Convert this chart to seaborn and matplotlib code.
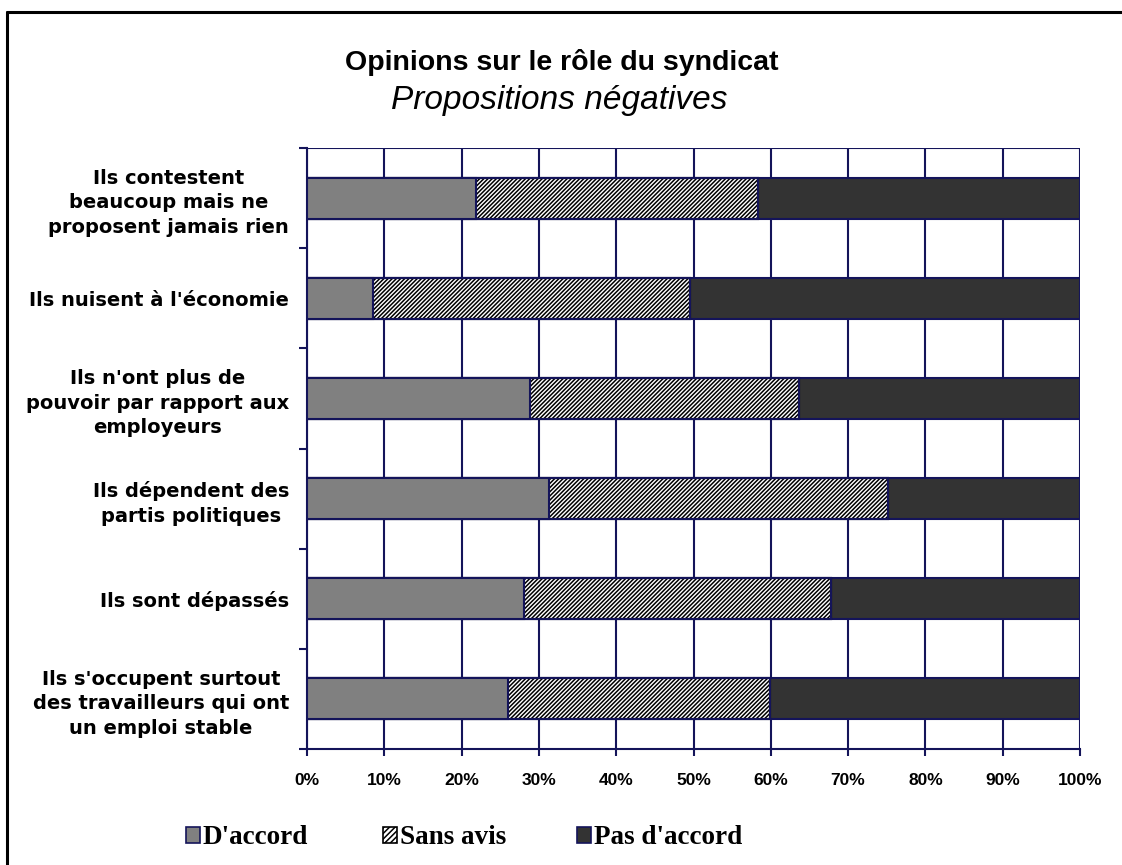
import matplotlib
matplotlib.use("Agg")
import matplotlib.pyplot as plt
import seaborn as sns
import pandas as pd
import numpy as np
from matplotlib.patches import Patch
from matplotlib.lines import Line2D
from matplotlib.ticker import FixedLocator, PercentFormatter

# Survey statements (top to bottom) and answer shares in percent
statements = [
    "Ils contestent\nbeaucoup mais ne\nproposent jamais rien",
    "Ils nuisent à l'économie",
    "Ils n'ont plus de\npouvoir par rapport aux\nemployeurs",
    "Ils dépendent des\npartis politiques",
    "Ils sont dépassés",
    "Ils s'occupent surtout\ndes travailleurs qui ont\nun emploi stable",
]
d_accord = [21.8, 8.6, 28.9, 31.3, 28.1, 26.0]
sans_avis = [36.5, 41.0, 34.8, 43.8, 39.7, 33.9]
pas_d_accord = [41.7, 50.4, 36.3, 24.9, 32.2, 40.1]
series_names = ["D'accord", "Sans avis", "Pas d'accord"]
x_ticks = [0, 10, 20, 30, 40, 50, 60, 70, 80, 90, 100]

navy = "#14145a"
grey = "#808080"
dark = "#333333"
hatch = "////////"

sns.set_theme(style="white")
plt.rcParams["font.family"] = ["Liberation Sans", "DejaVu Sans"]
plt.rcParams["text.color"] = "black"
plt.rcParams["xtick.labelcolor"] = "black"
plt.rcParams["ytick.labelcolor"] = "black"
plt.rcParams["hatch.linewidth"] = 1.1
plt.rcParams["hatch.color"] = "black"

df = pd.DataFrame({
    "statement": statements,
    "d": d_accord,
    "s": sans_avis,
    "p": pas_d_accord,
})
df["cum_s"] = df["d"] + df["s"]
df["cum_p"] = df["cum_s"] + df["p"]

fig = plt.figure(figsize=(11.22, 8.65), dpi=100)
ax = fig.add_axes([307 / 1122, 1 - 749 / 865, (1080 - 307) / 1122, (749 - 148) / 865])

bar_w = 0.41
# Stacked bars drawn as cumulative layers, widest first
sns.barplot(data=df, y="statement", x="cum_p", orient="h", color=dark,
            saturation=1, width=bar_w, edgecolor=navy, linewidth=1.5, ax=ax, zorder=3)
n_prev = len(ax.patches)
sns.barplot(data=df, y="statement", x="cum_s", orient="h", color="white",
            saturation=1, width=bar_w, edgecolor=navy, linewidth=1.5, ax=ax, zorder=3)
for p in list(ax.patches[n_prev:]):
    p.set_hatch(hatch)
    p.set_edgecolor("black")
    # navy outline over the hatched segment
    ax.add_patch(plt.Rectangle(p.get_xy(), p.get_width(), p.get_height(), fill=False,
                               edgecolor=navy, linewidth=1.5, zorder=3.5))
sns.barplot(data=df, y="statement", x="d", orient="h", color=grey,
            saturation=1, width=bar_w, edgecolor=navy, linewidth=1.5, ax=ax, zorder=4)

ax.set_xlim(0, 100)
ax.set_ylim(len(statements) - 0.5, -0.5)
ax.xaxis.set_major_locator(FixedLocator(x_ticks))
ax.xaxis.set_major_formatter(PercentFormatter(decimals=0))
ax.set_xlabel("")
ax.set_ylabel("")

# Vertical grid and top border of the plot area
ax.grid(False)
for xv in x_ticks:
    ax.axvline(xv, color=navy, linewidth=1.5, zorder=1)
ax.axhline(-0.5, color=navy, linewidth=1.5, zorder=1)

for side in ["top", "right"]:
    ax.spines[side].set_visible(False)
for side in ["left", "bottom"]:
    ax.spines[side].set_color(navy)
    ax.spines[side].set_linewidth(1.5)

ax.tick_params(axis="y", which="major", length=0, pad=13)
ax.yaxis.set_minor_locator(FixedLocator(np.arange(-0.5, len(statements), 1)))
ax.tick_params(axis="y", which="minor", length=6, width=1.5, color=navy, left=True)
ax.tick_params(axis="x", which="major", length=5, width=1.5, color=navy, bottom=True,
               pad=12, labelsize=12.5)
for lab in ax.get_yticklabels():
    lab.set_fontweight("bold")
    lab.set_family(["DejaVu Sans"])
    lab.set_fontsize(14)
    lab.set_multialignment("center")
    lab.set_linespacing(1.37)
for lab in ax.get_xticklabels():
    lab.set_fontweight("bold")

# Titles
fig.text(0.5 * (343 + 781) / 1122, 1 - 62 / 865, "Opinions sur le rôle du syndicat",
         ha="center", va="center", fontsize=20.5, fontweight="bold")
fig.text(0.5 * (388 + 731) / 1122, 1 - 101 / 865, "Propositions négatives",
         ha="center", va="center", fontsize=24, fontstyle="italic")

# Legend: one entry per series placed along the bottom
handles = [
    Patch(facecolor=grey, edgecolor=navy, linewidth=1.2),
    Patch(facecolor="white", edgecolor="black", hatch="//////", linewidth=1.2),
    Patch(facecolor=dark, edgecolor=navy, linewidth=1.2),
]
legend_x = [186, 383, 577]
leg_prop = {"family": "Liberation Serif", "weight": "bold", "size": 19.5}
for h, name, lx in zip(handles, series_names, legend_x):
    fig.legend([h], [name], loc="center left", bbox_to_anchor=(lx / 1122, 1 - 838 / 865),
               frameon=False, handlelength=0.5, handleheight=0.5, handletextpad=0.12,
               borderpad=0, borderaxespad=0, prop=leg_prop)

# Chart frame
fig.add_artist(Line2D([7 / 1122, 7 / 1122], [0, 1 - 12 / 865], transform=fig.transFigure,
                      color="black", linewidth=2.2))
fig.add_artist(Line2D([7 / 1122, 1], [1 - 12 / 865, 1 - 12 / 865], transform=fig.transFigure,
                      color="black", linewidth=2.2))

fig.savefig("out.png", dpi=100, facecolor="white")
